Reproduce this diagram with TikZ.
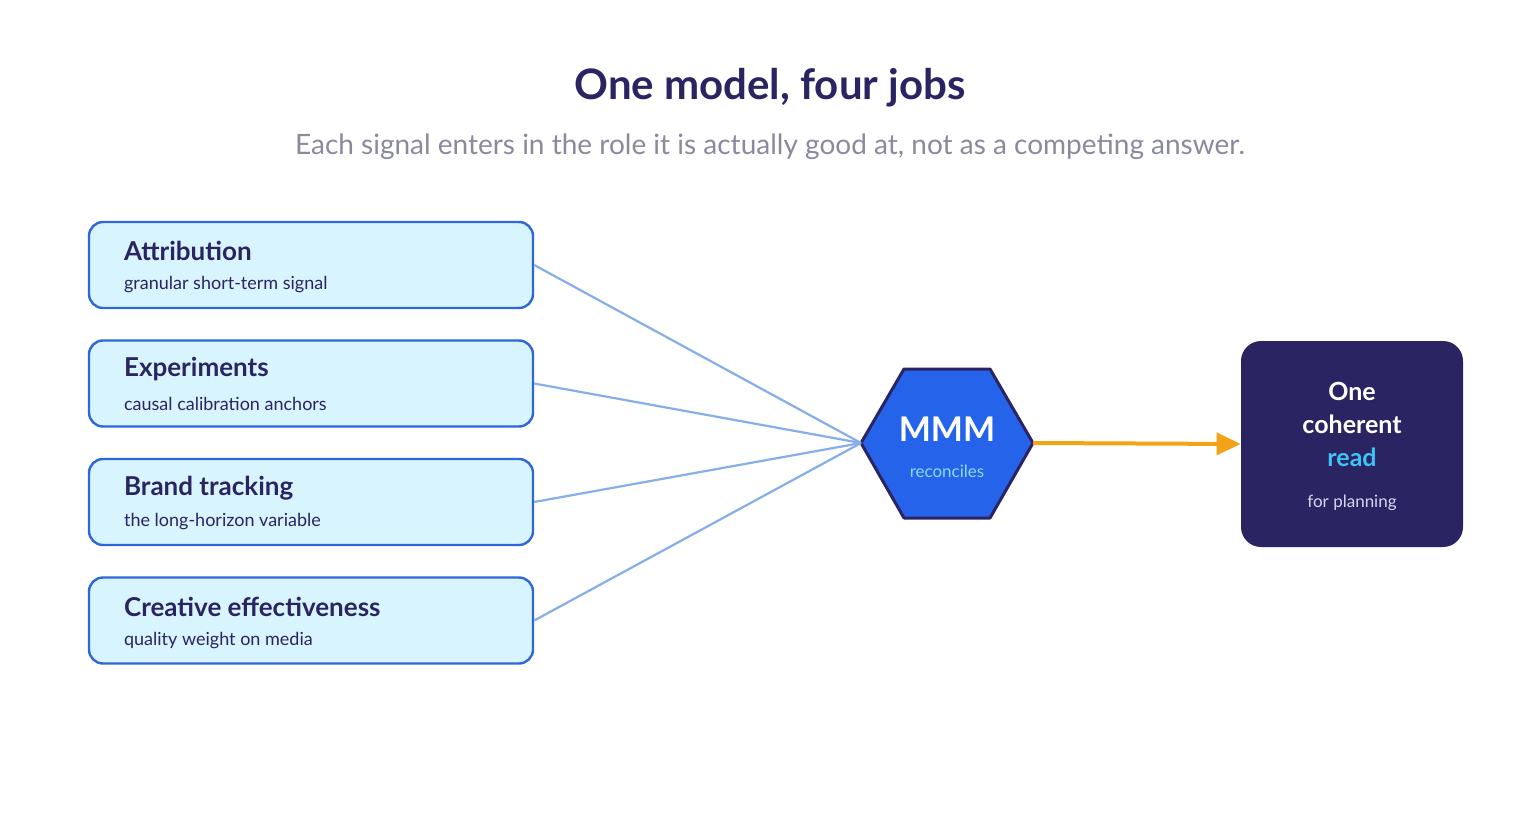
\documentclass[tikz,border=0pt]{standalone}
\usepackage{fontspec}
\setmainfont{Lato}
\usetikzlibrary{arrows.meta}
\definecolor{navy}{HTML}{2A2462}
\definecolor{subgray}{HTML}{8A8A9E}
\definecolor{boxfill}{HTML}{D8F4FE}
\definecolor{boxline}{HTML}{2F66D9}
\definecolor{conn}{HTML}{86AEEA}
\definecolor{hexfill}{HTML}{2563EB}
\definecolor{orng}{HTML}{F5A316}
\definecolor{cyanT}{HTML}{3EC3F2}
\definecolor{lightT}{HTML}{D6D6EE}
\begin{document}
\begin{tikzpicture}[x=0.5pt,y=-0.5pt,
  src/.style={draw=boxline,line width=1.2pt,fill=boxfill,rounded corners=7pt,minimum width=222pt,minimum height=43pt,inner sep=0pt},
  ttl/.style={anchor=west,text=navy,font=\fontsize{13}{15}\selectfont\bfseries},
  sub/.style={anchor=west,text=navy,font=\fontsize{9}{11}\selectfont},
  cn/.style={draw=conn,line width=1.1pt}]
\useasboundingbox (0,0) rectangle (1540,829);
\node[text=navy,font=\fontsize{21}{25}\selectfont\bfseries] (title) at (770,88) {One model, four jobs};
\node[text=subgray,font=\fontsize{14}{17}\selectfont] (subtitle) at (770,147) {Each signal enters in the role it is actually good at, not as a competing answer.};
\foreach \n/\y/\t/\s in {a/265/Attribution/granular short-term signal,
  b/383.5/Experiments/causal calibration anchors,
  c/502/Brand tracking/the long-horizon variable,
  d/620.5/Creative effectiveness/quality weight on media}{
  \node[src] (\n) at (311,\y) {};
  \node[ttl] (\n t) at (117,\y-14) {\t};
  \node[sub] (\n s) at (117,\y+20) {\s};
}
\draw[draw=navy,line width=1.5pt,fill=hexfill,line join=round]
  (861,443) -- (904,369) -- (990,369) -- (1033,443) -- (990,518) -- (904,518) -- cycle;
\coordinate (hl) at (861,443);
\coordinate (hr) at (1033,443);
\node[text=white,font=\fontsize{17}{20}\selectfont\bfseries] (mmm) at (947,429) {MMM};
\node[text=cyanT!60!white,font=\fontsize{8.5}{10}\selectfont] (rec) at (947,471) {reconciles};
\foreach \n in {a,b,c,d} \draw[cn] (\n.east) -- (hl);
\node[fill=navy,rounded corners=10pt,minimum width=111pt,minimum height=103pt,inner sep=0pt] (out) at (1352,444) {};
\draw[orng,line width=2pt,-{Triangle[length=12pt,width=11pt]}] (hr) -- (out.west);
\node[text=white,font=\fontsize{12.5}{15}\selectfont\bfseries] (o1) at (1352,391) {One};
\node[text=white,font=\fontsize{12.5}{15}\selectfont\bfseries] (o2) at (1352,424) {coherent};
\node[text=cyanT,font=\fontsize{12.5}{15}\selectfont\bfseries] (o3) at (1352,457) {read};
\node[text=lightT,font=\fontsize{8.5}{10}\selectfont] (o4) at (1352,503) {for planning};
\end{tikzpicture}
\end{document}
